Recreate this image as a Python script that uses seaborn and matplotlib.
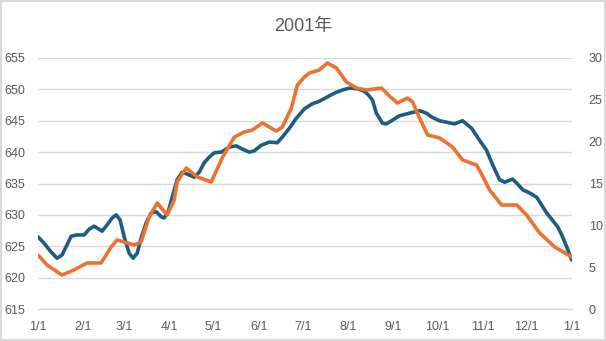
import matplotlib
matplotlib.use("Agg")
import matplotlib.pyplot as plt
import matplotlib.dates as mdates
import numpy as np
import pandas as pd
import seaborn as sns

# ---- data (day offsets from 2001-01-01, values) ----
blue_days = [0, 4.1, 8.9, 13.0, 16.4, 19.8, 22.6, 26.7, 31.5, 34.9, 38.3, 41.8, 43.8, 47.2,
             50.7, 53.4, 56.1, 58.9, 62.3, 65.0, 67.8, 70.5, 73.9, 77.3, 80.8, 84.2, 86.2,
             89.0, 91.7, 95.1, 98.6, 102.0, 106.8, 110.2, 113.6, 117.0, 120.5, 125.3, 130.7,
             135.5, 139.6, 144.4, 147.8, 152.6, 158.1, 163.6, 167.0, 171.8, 176.6, 182.1,
             187.5, 192.3, 197.8, 202.6, 208.1, 212.9, 218.3, 223.1, 225.9, 228.6, 231.3,
             235.5, 238.2, 242.3, 247.1, 253.9, 260.8, 265.6, 269.0, 274.5, 284.7, 290.2,
             296.4, 301.8, 306.6, 310.7, 315.5, 319.0, 324.4, 327.9, 331.3, 336.1, 340.9,
             347.7, 355.2, 358.0, 361.4, 364.8]
blue_vals = [626.5, 625.5, 624.1, 623.1, 623.6, 625.2, 626.6, 626.8, 626.8, 627.7, 628.2,
             627.7, 627.4, 628.4, 629.5, 630.0, 629.2, 626.5, 623.9, 623.1, 623.9, 626.3,
             628.7, 630.3, 630.5, 629.7, 629.5, 630.5, 632.8, 635.6, 636.8, 636.5, 636.0,
             636.8, 638.3, 639.2, 639.9, 640.0, 640.8, 641.0, 640.5, 640.0, 640.2, 641.1,
             641.6, 641.5, 642.4, 643.8, 645.4, 646.9, 647.7, 648.1, 648.8, 649.4, 649.9,
             650.2, 650.1, 649.7, 649.1, 648.3, 646.2, 644.6, 644.5, 645.1, 645.8, 646.2,
             646.6, 646.2, 645.6, 645.0, 644.5, 645.0, 643.8, 641.9, 640.3, 638.0, 635.6,
             635.2, 635.7, 634.9, 634.0, 633.5, 632.8, 630.3, 628.1, 626.8, 624.9, 622.8]

orange_days = [0, 6.2, 16.4, 24.6, 33.5, 43.1, 50.0, 54.1, 65.7, 70.5, 76.0, 81.5, 88.3,
               93.1, 95.1, 101.3, 108.8, 118.4, 125.9, 134.2, 141.0, 146.5, 153.3, 162.9,
               167.0, 173.2, 177.3, 182.1, 185.5, 192.3, 197.8, 204.0, 210.8, 217.7, 224.5,
               234.8, 240.2, 245.7, 252.6, 256.0, 260.8, 266.3, 274.5, 283.4, 290.2, 299.8,
               305.3, 308.7, 316.9, 327.2, 334.0, 342.9, 353.2, 364.8]
orange_vals = [6.45, 5.26, 4.06, 4.66, 5.50, 5.50, 7.41, 8.25, 7.65, 8.01, 11.00, 12.67,
               11.23, 13.03, 15.18, 16.85, 15.78, 15.18, 18.05, 20.56, 21.15, 21.39, 22.23,
               21.27, 21.75, 24.02, 26.77, 27.73, 28.21, 28.56, 29.40, 28.80, 27.13, 26.41,
               26.17, 26.41, 25.46, 24.62, 25.22, 24.74, 22.83, 20.80, 20.44, 19.36, 17.81,
               17.21, 15.42, 14.22, 12.43, 12.43, 11.23, 9.08, 7.41, 6.21]

title = "2001年"
left_ticks = [615, 620, 625, 630, 635, 640, 645, 650, 655]
right_ticks = [0, 5, 10, 15, 20, 25, 30]
month_labels = ["1/1", "2/1", "3/1", "4/1", "5/1", "6/1", "7/1", "8/1", "9/1",
                "10/1", "11/1", "12/1", "1/1"]

# ---- build frames ----
start = pd.Timestamp("2001-01-01")
df_blue = pd.DataFrame({"date": start + pd.to_timedelta(blue_days, unit="D"), "val": blue_vals})
df_orange = pd.DataFrame({"date": start + pd.to_timedelta(orange_days, unit="D"), "val": orange_vals})
month_starts = pd.date_range("2001-01-01", "2002-01-01", freq="MS")

sns.set_theme(style="white")
plt.rcParams["font.family"] = ["Liberation Sans", "Noto Sans CJK SC", "DejaVu Sans"]

BLUE = "#1c5d81"
ORANGE = "#ed7130"
GRID = "#d9d9d9"
TXT = "#595959"

fig = plt.figure(figsize=(6.06, 3.41), dpi=100)
fig.patch.set_facecolor("white")
fig.patch.set_edgecolor(GRID)
fig.patch.set_linewidth(1.5)
ax = fig.add_axes([38 / 606, 1 - 309 / 341, (572 - 38) / 606, (309 - 58) / 341])
ax2 = ax.twinx()

sns.lineplot(data=df_blue, x="date", y="val", ax=ax, color=BLUE, linewidth=2.6,
             solid_joinstyle="round", solid_capstyle="round", zorder=3)
sns.lineplot(data=df_orange, x="date", y="val", ax=ax2, color=ORANGE, linewidth=2.6,
             solid_joinstyle="round", solid_capstyle="round", zorder=3)

ax.set_xlim(month_starts[0], month_starts[-1])
ax.set_ylim(615, 655)
ax2.set_ylim(0, 30)
ax.set_yticks(left_ticks)
ax.set_yticklabels([str(t) for t in left_ticks])
ax2.set_yticks(right_ticks)
ax2.set_yticklabels([str(t) for t in right_ticks])
ax.set_xticks(month_starts)
ax.set_xticklabels(month_labels)

ax.grid(axis="y", color=GRID, linewidth=1)
ax.grid(axis="x", visible=False)
ax2.grid(False)
ax.set_axisbelow(True)

for a in (ax, ax2):
    for s in a.spines.values():
        s.set_visible(False)
    a.set_xlabel("")
    a.set_ylabel("")
ax.spines["bottom"].set_visible(True)
ax.spines["bottom"].set_color(GRID)
ax.spines["bottom"].set_linewidth(1)

ax.tick_params(axis="x", colors=GRID, direction="out", length=5, width=1, pad=4,
               labelsize=9, labelcolor=TXT)
ax.tick_params(axis="y", length=0, pad=9, labelsize=9, labelcolor=TXT)
ax2.tick_params(axis="y", length=0, pad=12, labelsize=9, labelcolor=TXT)

fig.text(0.5, 1 - 27 / 341, title, ha="center", va="center", fontsize=13, color=TXT)

fig.savefig("out.png", dpi=100, facecolor=fig.get_facecolor(), edgecolor=fig.get_edgecolor())
